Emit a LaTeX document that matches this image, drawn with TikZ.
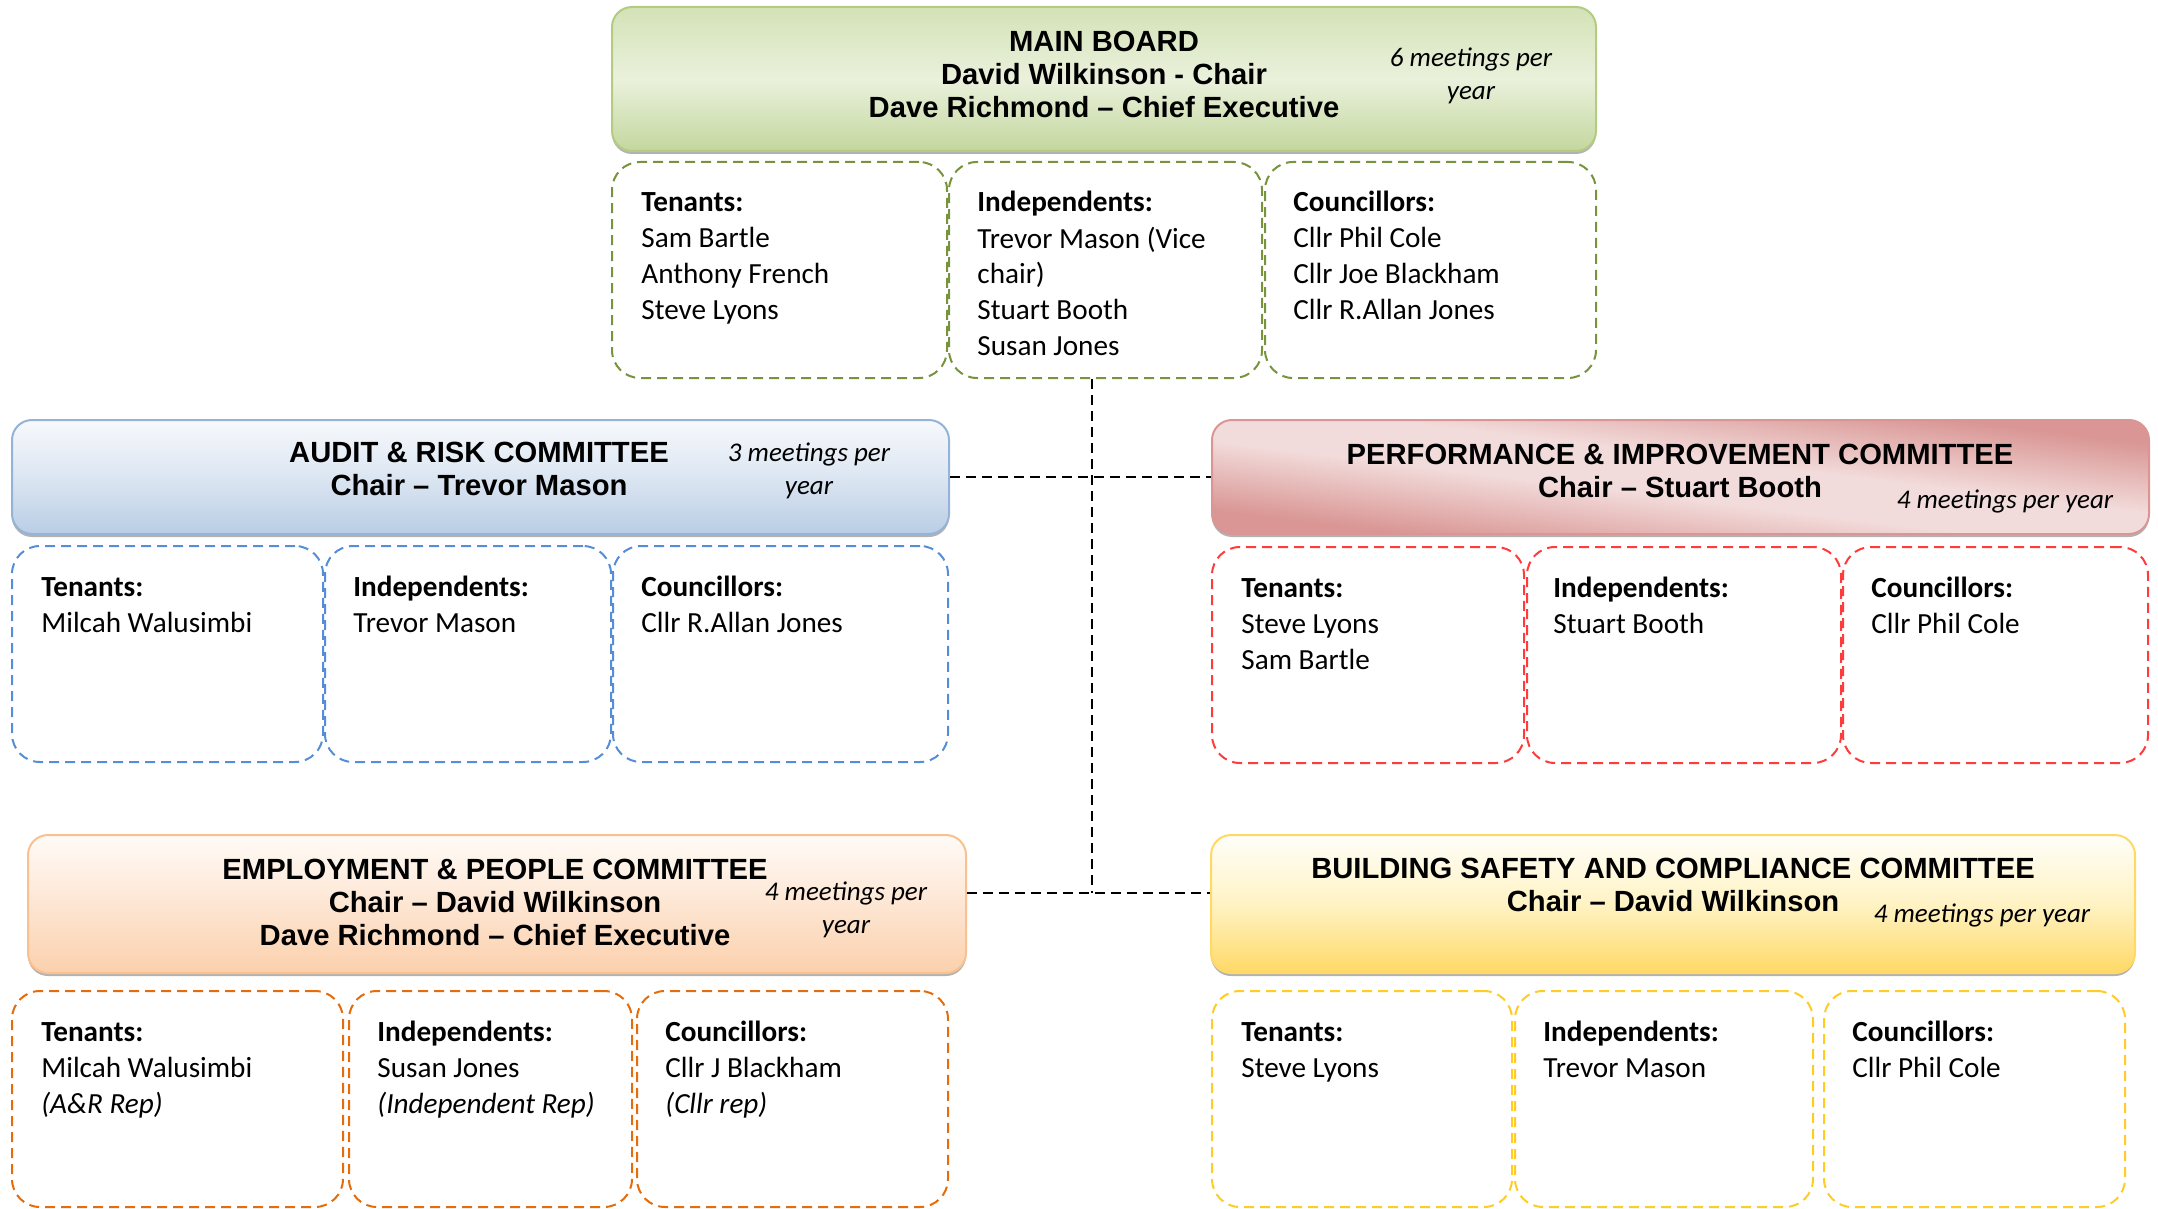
\documentclass[tikz,border=0pt]{standalone}
\usepackage{fontspec}
\setmainfont{Carlito}
\newfontfamily\headfont{Liberation Sans}
\usetikzlibrary{fit,shadows}

\definecolor{mbline}{HTML}{B3CC82}
\definecolor{mbdash}{HTML}{77933C}
\definecolor{mbtop}{HTML}{D3E2B6}
\definecolor{mbmid}{HTML}{EAF1DC}
\definecolor{mbbot}{HTML}{C4D79E}
\definecolor{arline}{HTML}{95B3D7}
\definecolor{ardash}{HTML}{558ED5}
\definecolor{artop}{HTML}{F7F9FC}
\definecolor{armid}{HTML}{DCE6F2}
\definecolor{arbot}{HTML}{B9CDE5}
\definecolor{piline}{HTML}{D99694}
\definecolor{pidash}{HTML}{FF3B3B}
\definecolor{pidark}{HTML}{D99694}
\definecolor{pimid}{HTML}{F2DCDB}
\definecolor{epline}{HTML}{FAC090}
\definecolor{epdash}{HTML}{E46C0A}
\definecolor{eptop}{HTML}{FFFBF7}
\definecolor{epmid}{HTML}{FDE6D3}
\definecolor{epbot}{HTML}{FBD0AC}
\definecolor{bsline}{HTML}{FFD966}
\definecolor{bsdash}{HTML}{FFCC26}
\definecolor{bstop}{HTML}{FFFEF9}
\definecolor{bsmid}{HTML}{FFF3C4}
\definecolor{bsbot}{HTML}{FFD966}

% diagonal band for the performance header
\pgfdeclareverticalshading{pishade}{100bp}{color(0bp)=(pidark); color(28bp)=(pidark);
  color(45bp)=(pimid); color(55bp)=(pimid); color(72bp)=(pidark); color(100bp)=(pidark)}

\tikzset{
  header/.style={rounded corners=10pt, line width=1pt, inner sep=0pt,
    drop shadow={shadow xshift=0pt, shadow yshift=-1.5pt, opacity=.5, fill=black!60}},
  members/.style={draw=#1, line width=1pt, dash pattern=on 5pt off 3pt,
    rounded corners=14pt, inner sep=0pt},
  link/.style={draw=black, line width=0.7pt, dash pattern=on 5pt off 3pt},
  title/.style={anchor=base, align=center, inner sep=0pt,
    font=\headfont\bfseries\fontsize{14.6}{16.5}\selectfont},
  note/.style={anchor=base, align=center, inner sep=0pt,
    font=\itshape\fontsize{13.5}{16.5}\selectfont},
  memtext/.style={anchor=base west, align=left, inner sep=0pt,
    font=\fontsize{14.6}{18}\selectfont}
}

\begin{document}
\begin{tikzpicture}[x=0.5pt, y=-0.5pt]
  \useasboundingbox (0,0) rectangle (2158,1209);

  % main board
  \node[header, draw=mbline, top color=mbtop, bottom color=mbbot, middle color=mbmid,
    fit={(612,7) (1596,151)}] (mb) {};
  \node[title] (mbtitle) at (1104,118) {MAIN BOARD\\David Wilkinson - Chair\\Dave Richmond – Chief Executive};
  \node[note] (mbnote) at (1471,100) {6 meetings per\\year};
  \node[members=mbdash, fit={(612,162) (947,378)}] (mbten) {};
  \node[members=mbdash, fit={(949,162) (1262,378)}] (mbind) {};
  \node[members=mbdash, fit={(1265,162) (1596,378)}] (mbcou) {};
  \node[memtext] (mbtentx) at ([xshift=15pt,yshift=-79.5pt]mbten.north west) {\textbf{Tenants:}\\Sam Bartle\\Anthony French\\Steve Lyons};
  \node[memtext] (mbindtx) at ([xshift=14.5pt,yshift=-97.5pt]mbind.north west) {\textbf{Independents:}\\Trevor Mason (Vice\\chair)\\Stuart Booth\\Susan Jones};
  \node[memtext] (mbcoutx) at ([xshift=14.5pt,yshift=-79.5pt]mbcou.north west) {\textbf{Councillors:}\\Cllr Phil Cole\\Cllr Joe Blackham\\Cllr R.Allan Jones};

  % audit & risk
  \node[header, draw=arline, top color=artop, bottom color=arbot, middle color=armid,
    fit={(12,420) (949,534)}] (ar) {};
  \node[title] (artitle) at (479,495) {AUDIT \& RISK COMMITTEE\\Chair – Trevor Mason};
  \node[note] (arnote) at (809,494) {3 meetings per\\year};
  \node[members=ardash, fit={(12,546) (323,762)}] (arten) {};
  \node[members=ardash, fit={(325,546) (611,762)}] (arind) {};
  \node[members=ardash, fit={(613,546) (948,762)}] (arcou) {};
  \node[memtext] (artentx) at ([xshift=15pt,yshift=-43.5pt]arten.north west) {\textbf{Tenants:}\\Milcah Walusimbi};
  \node[memtext] (arindtx) at ([xshift=14.5pt,yshift=-43.5pt]arind.north west) {\textbf{Independents:}\\Trevor Mason};
  \node[memtext] (arcoutx) at ([xshift=14.5pt,yshift=-43.5pt]arcou.north west) {\textbf{Councillors:}\\Cllr R.Allan Jones};

  % performance & improvement
  \node[header, draw=piline, shading=pishade, shading angle=-7,
    fit={(1212,420) (2149,534)}] (pi) {};
  \node[title] (pititle) at (1680,497) {PERFORMANCE \& IMPROVEMENT COMMITTEE\\Chair – Stuart Booth};
  \node[note] (pinote) at (2005,508) {4 meetings per year};
  \node[members=pidash, fit={(1212,547) (1524,763)}] (piten) {};
  \node[members=pidash, fit={(1527,547) (1841,763)}] (piind) {};
  \node[members=pidash, fit={(1843,547) (2148,763)}] (picou) {};
  \node[memtext] (pitentx) at ([xshift=15pt,yshift=-61.5pt]piten.north west) {\textbf{Tenants:}\\Steve Lyons\\Sam Bartle};
  \node[memtext] (piindtx) at ([xshift=13.5pt,yshift=-43.5pt]piind.north west) {\textbf{Independents:}\\Stuart Booth};
  \node[memtext] (picoutx) at ([xshift=14.5pt,yshift=-43.5pt]picou.north west) {\textbf{Councillors:}\\Cllr Phil Cole};

  % employment & people
  \node[header, draw=epline, top color=eptop, bottom color=epbot, middle color=epmid,
    fit={(28,835) (966,973)}] (ep) {};
  \node[title] (eptitle) at (495,945) {EMPLOYMENT \& PEOPLE COMMITTEE\\Chair – David Wilkinson\\Dave Richmond – Chief Executive};
  \node[note] (epnote) at (846,933) {4 meetings per\\year};
  \node[members=epdash, fit={(12,991) (343,1207)}] (epten) {};
  \node[members=epdash, fit={(349,991) (632,1207)}] (epind) {};
  \node[members=epdash, fit={(637,991) (948,1207)}] (epcou) {};
  \node[memtext] (eptentx) at ([xshift=15pt,yshift=-61.5pt]epten.north west) {\textbf{Tenants:}\\Milcah Walusimbi\\\textit{(A\&R Rep)}};
  \node[memtext] (epindtx) at ([xshift=14.5pt,yshift=-61.5pt]epind.north west) {\textbf{Independents:}\\Susan Jones\\\textit{(Independent Rep)}};
  \node[memtext] (epcoutx) at ([xshift=14.5pt,yshift=-61.5pt]epcou.north west) {\textbf{Councillors:}\\Cllr J Blackham\\\textit{(Cllr rep)}};

  % building safety
  \node[header, draw=bsline, top color=bstop, bottom color=bsbot, middle color=bsmid,
    fit={(1211,835) (2135,973)}] (bs) {};
  \node[title] (bstitle) at (1673,911) {BUILDING SAFETY AND COMPLIANCE COMMITTEE\\Chair – David Wilkinson};
  \node[note] (bsnote) at (1982,922) {4 meetings per year};
  \node[members=bsdash, fit={(1212,991) (1512,1207)}] (bsten) {};
  \node[members=bsdash, fit={(1515,991) (1813,1207)}] (bsind) {};
  \node[members=bsdash, fit={(1824,991) (2125,1207)}] (bscou) {};
  \node[memtext] (bstentx) at ([xshift=15pt,yshift=-43.5pt]bsten.north west) {\textbf{Tenants:}\\Steve Lyons};
  \node[memtext] (bsindtx) at ([xshift=14.5pt,yshift=-43.5pt]bsind.north west) {\textbf{Independents:}\\Trevor Mason};
  \node[memtext] (bscoutx) at ([xshift=14.5pt,yshift=-43.5pt]bscou.north west) {\textbf{Councillors:}\\Cllr Phil Cole};

  % links
  \coordinate (spinetop) at (1092,379);
  \coordinate (spinebot) at (1092,893);
  \draw[link] (spinetop) -- (spinebot);
  \draw[link] (ar.east) -- (pi.west);
  \draw[link] (ep.east |- spinebot) -- (bs.west |- spinebot);
\end{tikzpicture}
\end{document}
